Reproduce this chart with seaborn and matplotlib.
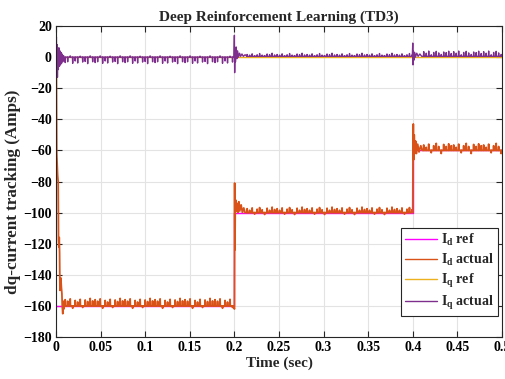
import numpy as np
import pandas as pd
import matplotlib
matplotlib.use("Agg")
import matplotlib.pyplot as plt
import seaborn as sns

# ---------------- data ----------------
# reference steps
ref_t = [0.0, 0.2, 0.2, 0.4, 0.4, 0.5]
id_ref_vals = [-160, -160, -100, -100, -60, -60]
iq_ref_vals = [0, 0, 0, 0, 0, 0]

# steady levels of each segment
seg_start = [0.010, 0.214, 0.412]
seg_end = [0.1995, 0.3995, 0.5]
id_levels = [-160, -100, -60]
iq_levels = [0.0, 0.5, 0.5]
ripple_period = 0.0028

# ripple spike heights (cycled) per segment
id_spikes = [[4.0, 3.0, 4.5, -1.5, 3.5, 2.5, 4.2, -1.0, 3.8, 2.8, 4.8, 3.2],
             [2.5, 1.5, 3.0, -1.0, 2.2, 3.2, 1.8, -1.2, 2.8, 1.5, 3.5, 2.0],
             [3.5, 2.0, 4.0, -1.5, 3.0, 4.5, 2.5, -2.0, 3.8, 2.5, 4.2, 3.0]]
iq_spikes = [[-3.5, -3.0, 0.8, -4.0, -2.5, -3.8, 0.6, -3.2, -2.8, -4.2, 0.8, -3.0],
             [1.2, 0.8, 1.6, 0.4, 1.0, 1.8, 0.8, 0.5, 1.5, 1.1, 2.0, 0.9],
             [3.0, 2.0, 3.4, 1.0, 2.5, 3.2, 2.2, 1.2, 2.8, 2.4, 3.3, 1.8]]

# start-up / step transients (time, value)
id_tr = [
    ([0.0, 0.0004, 0.0008, 0.0012, 0.0018, 0.0024, 0.0028, 0.0032, 0.0036, 0.0040,
      0.0044, 0.0048, 0.0054, 0.0060, 0.0066, 0.0070, 0.0076, 0.0082, 0.0088, 0.0094, 0.0100],
     [0.0, -8, -62, -68, -76, -80, -118, -122, -116, -126, -150, -146, -142, -148, -152,
      -160, -165, -157, -162, -158, -160]),
    ([0.1995, 0.2000, 0.2003, 0.2006, 0.2010, 0.2016, 0.2022, 0.2030, 0.2040, 0.2050,
      0.2060, 0.2075, 0.2090, 0.2105, 0.2120, 0.2140],
     [-160, -162, -81, -124, -96, -92, -99, -94, -100, -93, -99, -95, -100, -97, -100, -100]),
    ([0.3995, 0.4000, 0.4003, 0.4006, 0.4010, 0.4016, 0.4024, 0.4032, 0.4042, 0.4055,
      0.4070, 0.4090, 0.4105, 0.4120],
     [-100, -100, -58, -43, -66, -50, -62, -54, -62, -56, -61, -57, -60, -60]),
]
iq_tr = [
    ([0.0, 0.0004, 0.0008, 0.0012, 0.0016, 0.0020, 0.0026, 0.0032, 0.0038, 0.0044,
      0.0050, 0.0056, 0.0062, 0.0068, 0.0076, 0.0084, 0.0092, 0.0100],
     [0.0, 13, -2, 8, -13, 5, -8, 6, -6, 4, -5, 3, -4, 2, -3, 1, -2, 0]),
    ([0.1995, 0.2000, 0.2003, 0.2007, 0.2012, 0.2020, 0.2028, 0.2036, 0.2046, 0.2058,
      0.2070, 0.2085, 0.2100, 0.2120, 0.2140],
     [0.0, 14, -10, 5, -3, 6.5, -1, 4, 0, 2.5, 0.5, 2, 0.5, 1.5, 0.5]),
    ([0.3995, 0.4000, 0.4003, 0.4007, 0.4012, 0.4020, 0.4030, 0.4045, 0.4060, 0.4080,
      0.4100, 0.4120],
     [0.5, 9, -5, 4, -2, 3, 0, 2.5, 0.5, 2, 0.5, 0.5]),
]


def build(transients, levels, spikes):
    ts, vs = [], []
    for i, (tt, vv) in enumerate(transients):
        ts += list(tt)
        vs += list(vv)
        t = seg_start[i]
        k = 0
        while t + 0.0006 < seg_end[i]:
            a = spikes[i][k % len(spikes[i])]
            ts += [t, t + 0.0003, t + 0.0006]
            vs += [levels[i], levels[i] + a, levels[i]]
            t += ripple_period
            k += 1
    return ts, vs


id_t, id_v = build(id_tr, id_levels, id_spikes)
iq_t, iq_v = build(iq_tr, iq_levels, iq_spikes)

frames = [
    pd.DataFrame({"t": ref_t, "v": id_ref_vals, "s": "Id ref"}),
    pd.DataFrame({"t": id_t, "v": id_v, "s": "Id actual"}),
    pd.DataFrame({"t": ref_t, "v": iq_ref_vals, "s": "Iq ref"}),
    pd.DataFrame({"t": iq_t, "v": iq_v, "s": "Iq actual"}),
]
df = pd.concat(frames, ignore_index=True)

colors = {"Id ref": "#FF00FF", "Id actual": "#D95319",
          "Iq ref": "#EDB120", "Iq actual": "#7E2F8E"}
widths = {"Id ref": 1.0, "Id actual": 1.3, "Iq ref": 1.0, "Iq actual": 1.0}
labels = {"Id ref": r"$\mathbf{I_d}$ ref", "Id actual": r"$\mathbf{I_d}$ actual",
          "Iq ref": r"$\mathbf{I_q}$ ref", "Iq actual": r"$\mathbf{I_q}$ actual"}

# ---------------- styling ----------------
sns.set_style("ticks")
plt.rcParams["font.family"] = ["Liberation Serif", "DejaVu Serif"]
plt.rcParams["font.weight"] = "bold"
plt.rcParams["axes.labelweight"] = "bold"
plt.rcParams["axes.titleweight"] = "bold"
plt.rcParams["mathtext.fontset"] = "custom"
plt.rcParams["mathtext.rm"] = "Liberation Serif:bold"
plt.rcParams["mathtext.bf"] = "Liberation Serif:bold"
plt.rcParams["mathtext.it"] = "Liberation Serif:bold"

fig = plt.figure(figsize=(5.06, 3.79), dpi=100)
ax = fig.add_axes([0.1107, 0.1108, 0.8813, 0.8206])

for s in ["Id ref", "Id actual", "Iq ref", "Iq actual"]:
    sub = df[df["s"] == s]
    sns.lineplot(data=sub, x="t", y="v", ax=ax, color=colors[s], lw=widths[s],
                 estimator=None, sort=False, label=labels[s])

ax.set_xlim(0, 0.5)
ax.set_ylim(-180, 20)
xt = [0, 0.05, 0.1, 0.15, 0.2, 0.25, 0.3, 0.35, 0.4, 0.45, 0.5]
ax.set_xticks(xt)
ax.set_xticklabels(["0", "0.05", "0.1", "0.15", "0.2", "0.25", "0.3", "0.35", "0.4", "0.45", "0.5"])
ax.set_yticks(list(range(-180, 21, 20)))
ax.grid(True, color="#e3e3e3", lw=0.8)
ax.set_axisbelow(True)
ax.tick_params(direction="in", length=4, width=0.8, top=True, right=True,
               labelsize=10, pad=3, colors="#262626", labelcolor="black")
for lab in ax.get_xticklabels() + ax.get_yticklabels():
    lab.set_fontweight("bold")
for sp in ax.spines.values():
    sp.set_linewidth(0.8)
    sp.set_color("#262626")

ax.set_title("Deep Reinforcement Learning (TD3)", fontsize=11, fontweight="bold", pad=4)
ax.set_xlabel("Time (sec)", fontsize=11, fontweight="bold", labelpad=2)
ax.set_ylabel("dq-current tracking (Amps)", fontsize=12.3, fontweight="bold")
ax.yaxis.set_label_coords(-0.079, 0.468)

leg = ax.legend(loc="lower right", bbox_to_anchor=(0.991, 0.0675), fontsize=10,
                frameon=True, fancybox=False, edgecolor="#262626", framealpha=1,
                handlelength=2.3, handletextpad=0.3, borderpad=0.3, labelspacing=0.28,
                borderaxespad=0)
leg.get_frame().set_linewidth(0.8)
for line in leg.get_lines():
    line.set_linewidth(1.0)

fig.savefig("out.png", dpi=100)
